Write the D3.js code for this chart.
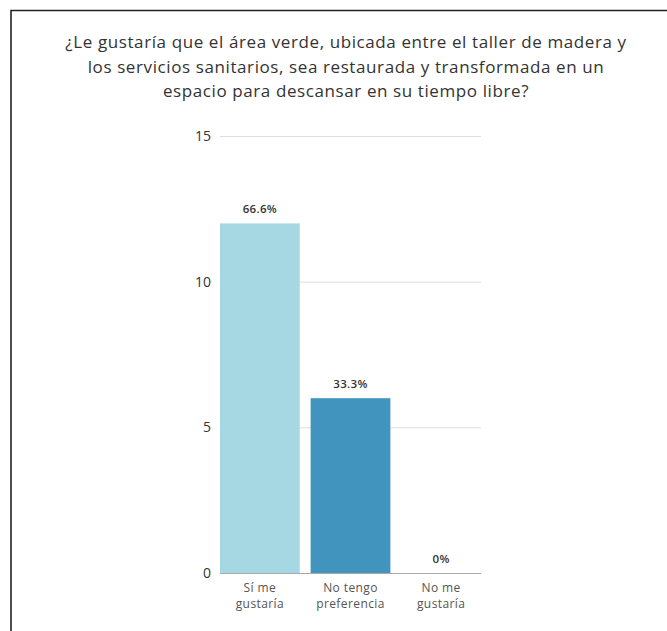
<!DOCTYPE html>
<html>
  <head>
    <meta charset="utf-8">
    <style>
      body { margin: 0; padding: 0; background: #fff; font-family: 'Open Sans', sans-serif; }
    </style>
  </head>
  <body>
    <div id="chart"></div>
    <script src="https://d3js.org/d3.v7.min.js"></script>
    <script>
      var categories = [["Sí me", "gustaría"], ["No tengo", "preferencia"], ["No me", "gustaría"]];
      var counts = [12, 6, 0];
      var percents = ["66.6%", "33.3%", "0%"];
      var colors = ["#a6d8e4", "#4094be", "#2c6f9a"];
      var yTicks = [0, 5, 10, 15];
      var titleLines = [
        "¿Le gustaría que el área verde, ubicada entre el taller de madera y",
        "los servicios sanitarios, sea restaurada y transformada en un",
        "espacio para descansar en su tiempo libre?"
      ];

      var W = 667, H = 631;
      var svg = d3.select("#chart").append("svg")
        .attr("width", W).attr("height", H);

      // frame around the card
      svg.append("path")
        .attr("d", "M11,631 V10.5 H667")
        .attr("fill", "none")
        .attr("stroke", "#222")
        .attr("stroke-width", 1.6);

      svg.append("g").selectAll("text")
        .data(titleLines)
        .enter().append("text")
          .attr("x", 346)
          .attr("y", (d, i) => 48 + i * 24.5)
          .attr("text-anchor", "middle")
          .attr("font-size", "17px")
          .attr("letter-spacing", "0.6px")
          .attr("fill", "#333")
          .text(d => d);

      var x = d3.scaleBand()
        .domain(d3.range(categories.length))
        .range([220, 481])
        .paddingInner(0.12)
        .paddingOuter(0);

      var y = d3.scaleLinear()
        .domain([0, 15])
        .range([573, 136]);

      var grid = svg.append("g")
        .attr("transform", "translate(220,0)")
        .call(d3.axisLeft(y).tickValues(yTicks).tickSize(-261).tickFormat(d3.format("d")));
      grid.select(".domain").remove();
      grid.selectAll(".tick line")
        .attr("stroke", d => d === 0 ? "#aaa" : "#dedede");
      grid.selectAll(".tick text")
        .attr("x", -9)
        .attr("font-size", "14px")
        .attr("font-family", "'Open Sans', sans-serif")
        .attr("fill", "#333");

      svg.append("g").selectAll("rect")
        .data(counts)
        .enter().append("rect")
          .attr("x", (d, i) => x(i))
          .attr("y", d => y(d))
          .attr("width", x.bandwidth())
          .attr("height", d => y(0) - y(d))
          .attr("fill", (d, i) => colors[i]);

      svg.append("g").selectAll("text")
        .data(counts)
        .enter().append("text")
          .attr("x", (d, i) => x(i) + x.bandwidth() / 2)
          .attr("y", d => y(d) - 10)
          .attr("text-anchor", "middle")
          .attr("font-size", "11.5px")
          .attr("font-weight", 600)
          .attr("letter-spacing", "0.3px")
          .attr("fill", "#333")
          .text((d, i) => percents[i]);

      var xl = svg.append("g").selectAll("text")
        .data(categories)
        .enter().append("text")
          .attr("x", (d, i) => x(i) + x.bandwidth() / 2)
          .attr("y", 592)
          .attr("text-anchor", "middle")
          .attr("font-size", "12px")
          .attr("letter-spacing", "0.4px")
          .attr("fill", "#555");
      xl.selectAll("tspan")
        .data(d => d)
        .enter().append("tspan")
          .attr("x", function () { return this.parentNode.getAttribute("x"); })
          .attr("dy", (d, i) => i === 0 ? 0 : 16)
          .text(d => d);
    </script>
  </body>
</html>
